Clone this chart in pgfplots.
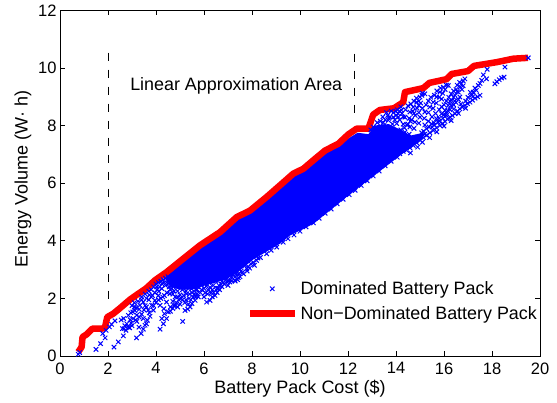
\documentclass[border=0pt]{standalone}
\usepackage{fontspec}
\setmainfont{Liberation Sans}
\usepackage{pgfplots}
\pgfplotsset{compat=1.18}
\definecolor{mblue}{rgb}{0,0,1}
\definecolor{mred}{rgb}{1,0,0}
\pgfplotsset{
  legmark/.style={legend image code/.code={\draw[##1] plot coordinates {(22pt,0pt)};}},
  legline/.style={legend image code/.code={\draw[##1,line cap=butt] (0pt,0pt) -- (45pt,0pt);}},
}
\begin{document}
\begin{tikzpicture}
\useasboundingbox (-60pt,-46.3pt) rectangle (497pt,356pt);
\begin{axis}[
    scale only axis,
    width=480pt,
    height=345.7pt,
    xmin=0, xmax=20,
    ymin=0, ymax=12,
    xtick={0,2,...,20},
    ytick={0,2,...,12},
    tick align=inside,
    major tick length=5pt,
    axis line style={line width=1pt},
    tick style={line width=0.8pt,black},
    /pgf/number format/assume math mode=true,
    tick label style={font=\fontsize{16.5}{18}\selectfont},
    xticklabel style={yshift=-3pt},
    label style={font=\fontsize{18}{20}\selectfont},
    xlabel={Battery Pack Cost (\$)},
    ylabel={Energy Volume (W· h)},
    xlabel style={yshift=1pt},
    ylabel style={yshift=0pt,xshift=4.5pt},
    legend cell align=left,
    legend style={draw=none,fill=none,at={(0.998,0.095)},anchor=south east,
      font=\fontsize{17.9}{20}\selectfont,row sep=6.5pt,inner sep=0pt,
      /tikz/every odd column/.append style={column sep=0pt}},
]
% solid core of the cloud
\addplot[draw=none,fill=mblue,forget plot] coordinates {
(4.4,2.75) (5.14,3.3) (5.83,3.75) (6.67,4.25) (7.36,4.72) (7.92,5.0) (8.61,5.45)
(9.31,5.95) (9.72,6.25) (10.14,6.42) (10.55,6.7) (11.04,7.05) (11.6,7.3) (12.01,7.55)
(12.4,7.75) (12.85,7.7) (13.1,8.0) (13.7,8.05) (14.2,7.85) (14.6,7.65) (15.14,7.75) (15.14,7.54)
(14.17,6.96) (12.2,5.69) (11.94,5.52) (10.56,4.59) (9.58,4.18) (9.17,3.9) (8.05,3.35)
(7.4,2.9) (7.0,2.7) (6.5,2.55) (6.0,2.45) (5.5,2.3) (5.0,2.3) (4.6,2.4) };
\addplot[only marks,mark=x,mark size=3.1pt,mblue,mark options={line width=1pt},legmark]
coordinates {
(.76,.06) (.82,.12) (1.5,.23) (1.69,.43) (1.88,.63) (1.78,.78) (1.92,.89) (2.06,1.01) (2.15,1.1) (2.29,1.22)
(2.25,.31) (2.43,.49) (2.64,.70) (2.75,.89) (2.67,.95) (2.85,1.0) (2.78,1.12) (2.92,1.26) (2.85,1.41) (3.03,1.53) (3.17,1.68) (3.33,1.76) (3.47,1.87)
(2.9,.98) (2.97,1.14) (3.05,1.3) (3.2,1.42) (3.12,1.58) (3.3,1.62) (3.55,1.75) (3.4,1.95) (3.6,2.0) (3.72,2.12)
(3.19,.63) (3.38,.78) (3.47,.93) (3.29,1.0) (3.54,1.07) (3.64,1.24) (3.47,1.3) (3.75,1.38) (3.89,1.59) (3.68,1.59) (3.82,1.76) (3.96,1.93) (4.1,2.1) (3.6,1.12) (3.72,1.5)
(4.17,.93) (4.31,1.12) (4.44,1.3) (4.24,1.3) (4.51,1.53) (4.33,1.64) (4.17,1.76) (4.44,1.87) (4.58,2.16) (4.51,2.51) (4.24,2.34) (4.03,2.4) (4.35,1.47) (4.6,1.7) (4.7,1.9) (4.28,2.05) (4.12,2.25) (4.4,2.45) (4.66,2.35)
(4.8,2.05) (4.9,2.25) (4.85,2.4) (5.0,2.12) (5.1,2.3) (5.2,2.42)
(3.0,1.75) (3.1,1.85) (3.25,1.9) (3.4,2.05) (3.55,2.15) (3.7,2.25) (3.8,2.3) (3.9,2.4) (4.0,2.5) (4.1,2.55) (4.2,2.6) (4.3,2.65) (4.4,2.7) (4.5,2.75) (3.85,2.1) (3.95,2.2) (4.05,2.3) (4.15,2.4) (4.25,2.5) (4.35,2.55) (4.5,2.6) (4.55,2.4) (3.7,1.95) (3.8,2.05)
(4.75,1.75) (4.85,1.85) (4.95,1.95) (5.05,2.0) (5.15,2.1) (5.25,2.25) (5.3,2.4) (5.35,1.8) (5.45,1.95) (5.55,2.05) (5.65,2.05) (5.7,2.15)
(4.6,1.55) (4.7,1.65) (4.8,1.75) (4.9,1.7) (5.0,1.8) (5.1,1.95) (5.2,1.85) (5.25,1.95) (5.4,2.15) (5.5,2.2) (5.65,2.3) (5.75,2.4) (5.8,2.5)
(3.9,1.75) (4.0,1.85) (4.1,1.95) (4.2,2.0) (4.35,2.1) (4.45,2.2) (4.6,2.3) (4.7,2.15) (4.75,2.25) (4.9,2.05)
(3.2,1.2) (3.3,1.35) (3.4,1.45) (3.5,1.6) (3.6,1.7) (3.0,1.05) (3.15,1.25) (2.95,1.5) (3.1,1.7) (2.7,1.05) (2.6,.95) (2.55,1.25) (2.65,1.3)
(6.0,2.05) (6.05,2.2) (6.15,2.15) (6.35,2.05) (6.4,2.2) (6.55,2.35) (6.65,2.3) (6.75,2.4) (6.85,2.5) (7.0,2.45) (7.15,2.6) (7.3,2.6) (7.4,2.65) (7.5,2.75) (7.65,2.85) (7.8,2.95) (7.9,3.05) (8.1,3.15)
(5.11,1.2) (5.21,1.58) (5.42,1.7) (5.63,1.93) (5.76,2.05) (5.28,2.16) (5.48,2.33) (5.32,1.63) (5.5,1.82) (5.38,2.0) (5.6,2.15) (5.7,2.3) (5.85,2.2) (5.55,2.45) (5.9,2.45)
(5.9,2.3) (6.0,2.35) (6.1,2.42) (6.25,2.38) (6.35,2.3) (6.55,2.2) (6.6,2.35) (6.7,2.5) (6.8,2.55) (6.9,2.62) (7.0,2.6) (7.1,2.65) (7.2,2.8) (7.3,2.75) (7.45,2.85) (7.55,2.95) (7.85,3.1) (8.05,3.25) (8.25,3.4)
(6.11,1.87) (6.25,1.93) (6.46,2.1) (6.18,2.28) (6.39,2.45) (6.05,2.5) (6.3,2.2) (6.5,2.3) (6.62,2.45) (6.75,2.6) (6.2,2.55) (6.48,2.6)
(7.08,2.57) (7.29,2.63) (7.43,2.72) (7.22,2.91) (7.15,2.75) (7.35,2.85) (6.95,2.7) (7.0,2.85) (6.85,2.78) (7.6,2.9) (7.78,3.03) (7.7,3.15) (7.95,3.2) (8.19,3.32) (8.35,3.42) (8.61,3.55) (8.8,3.67) (9.03,3.78) (9.3,3.95) (9.5,4.07)
(9.75,4.2) (10.0,4.33) (10.25,4.48) (10.56,4.62) (10.8,4.78) (11.05,4.95) (11.3,5.1) (11.55,5.28) (11.8,5.44) (12.05,5.6) (12.3,5.75) (12.55,5.92) (12.8,6.08) (13.05,6.25) (13.3,6.42) (13.55,6.6) (13.8,6.76) (14.05,6.9)
(14.16,7.02) (14.3,7.1) (14.44,7.14) (14.58,7.23) (14.72,7.31) (14.86,7.4) (15.0,7.49) (15.14,7.58) (15.27,7.66) (15.41,7.75) (15.55,7.83) (15.69,7.92) (15.83,8.0) (15.94,8.07) (16.04,8.14) (16.15,8.22) (16.25,8.29) (16.35,8.35) (16.46,8.41) (16.56,8.5) (16.66,8.58) (16.76,8.64) (16.87,8.7) (16.98,8.76) (17.08,8.81) (17.19,8.88) (17.29,8.95) (17.4,9.0) (17.5,9.05)
(14.6,7.05) (14.9,7.25) (15.1,7.42) (15.4,7.58) (15.7,7.78) (16.0,7.98) (16.3,8.17) (16.6,8.42) (16.9,8.6) (15.2,7.7) (15.5,7.95) (15.8,8.15) (16.1,8.35) (16.4,8.57)
(17.22,9.16) (17.29,9.3) (17.43,9.39) (17.5,9.46) (17.57,9.57) (17.77,9.62) (17.64,9.76) (17.8,9.95) (17.35,9.22) (17.15,9.05)
(18.12,9.45) (18.3,9.59) (18.5,9.68) (18.2,9.52) (18.4,9.65) (18.54,10.03) (19.51,10.35)
(16.87,9.62) (16.73,9.45) (16.66,9.33) (16.8,9.38) (16.6,9.16) (16.46,9.05) (16.66,8.99) (16.55,9.18) (16.32,8.87) (16.45,8.85) (16.18,8.7) (16.3,8.7) (16.04,8.53) (16.15,8.52) (15.9,8.41) (16.0,8.38) (15.69,8.24) (15.8,8.25) (15.48,8.06) (15.58,8.1) (15.27,7.89) (15.38,7.95) (15.07,7.75) (15.15,7.8) (14.9,7.6) (14.8,7.52) (16.75,9.25) (16.5,9.25) (16.4,8.98) (16.25,8.85)
(16.18,9.39) (15.97,9.33) (16.05,9.25) (15.83,9.16) (15.95,9.12) (15.69,8.99) (15.9,8.92) (15.8,8.98) (15.55,8.81) (15.68,8.78) (15.41,8.64) (15.55,8.6) (15.2,8.47) (15.35,8.45) (15,8.29) (15.18,8.25) (14.79,8.12) (14.95,8.08) (14.58,7.95) (14.75,7.9) (14.37,7.77) (14.55,7.7) (14.4,7.6)
(15.2,9.1) (15.08,9.05) (15,8.99) (14.86,8.81) (15.03,8.78) (14.95,8.85) (14.72,8.64) (14.88,8.6) (14.58,8.47) (14.75,8.42) (14.37,8.29) (14.55,8.25) (14.23,8.53) (14.09,8.41) (14.15,8.2) (13.89,8.29) (14.03,8.07) (13.68,8.18) (14.3,8.05) (14.45,8.02) (13.47,8.1) (13.85,8.05) (14.2,7.85) (14.35,7.92) (14.6,8.15)
(13.45,8.3) (13.35,8.15) (12.95,7.85) (13.05,7.95) (13.22,8.1)
(13.6,8.45) (13.8,8.5) (13.9,8.45) (14.05,8.55) (14.15,8.5) (13.55,8.2) (13.7,8.25) (14.0,8.35) (14.3,8.3) (14.2,8.65)
(15.6,8.02) (15.75,8.12) (15.95,8.25) (16.1,8.42) (16.25,8.55) (16.4,8.72) (16.5,8.8) (16.6,8.9)
(16.7,8.75) (16.9,8.85) (17.0,8.98) (17.1,9.15) (17.2,9.0)
(15.2,8.02) (15.35,8.15) (15.5,8.3) (15.65,8.42) (15.8,8.55) (15.9,8.65) (16.0,8.72) (16.1,8.85) (16.2,8.98) (16.3,9.1) (16.4,9.2) (16.55,9.4) (16.65,9.5) (16.8,9.55)
(14.5,8.05) (14.65,8.2) (14.8,8.35) (14.95,8.45) (15.1,8.6) (15.25,8.72) (15.35,8.85) (15.45,8.98) (15.6,9.05) (15.7,9.2) (15.85,9.3) (16.1,9.4)
(13.95,8.2) (14.1,8.3) (14.25,8.42) (14.4,8.55) (14.5,8.68) (14.62,8.75) (14.75,8.85) (14.85,8.95) (15.1,9.12) (14.95,8.7) (14.7,8.5)
(13.5,8.0) (13.65,8.35) (13.75,8.3) (14.0,8.5)
};
\addlegendentry{Dominated Battery Pack}
\addplot[mred,line width=6.5pt,line join=round,legline]
coordinates {
(.76,.14) (.90,.31) (.94,.66) (1.11,.75) (1.35,.95) (1.74,.95) (1.87,.98) (1.97,1.35)
(2.22,1.47) (2.47,1.64) (2.92,1.96) (3.26,2.16) (3.58,2.34) (3.96,2.63) (4.44,2.91)
(5.14,3.38) (5.83,3.84) (6.67,4.30) (7.36,4.82) (7.92,5.05) (8.61,5.52) (9.31,6.03)
(9.72,6.33) (10.14,6.50) (10.55,6.79) (11.04,7.13) (11.6,7.37) (12.01,7.69) (12.36,7.89)
(12.85,7.89) (13.05,8.38) (13.33,8.54) (13.92,8.6) (14.3,8.81) (14.375,9.16) (15.14,9.3)
(15.39,9.48) (16.11,9.61) (16.32,9.79) (17.0,9.89) (17.25,10.07) (18.2,10.2) (18.89,10.32) (19.5,10.35) };
\addlegendentry{Non−Dominated Battery Pack}
\addplot[black,line width=0.8pt,dash pattern=on 8pt off 9pt,forget plot] coordinates {(2.01,10.53) (2.01,1.72)};
\addplot[black,line width=0.8pt,dash pattern=on 8pt off 9pt,forget plot] coordinates {(12.25,10.5) (12.25,8.27)};
\node[anchor=west,font=\fontsize{17.9}{20}\selectfont,inner sep=0pt] at (axis cs:2.92,9.36) {Linear Approximation Area};
\end{axis}
\end{tikzpicture}
\end{document}
